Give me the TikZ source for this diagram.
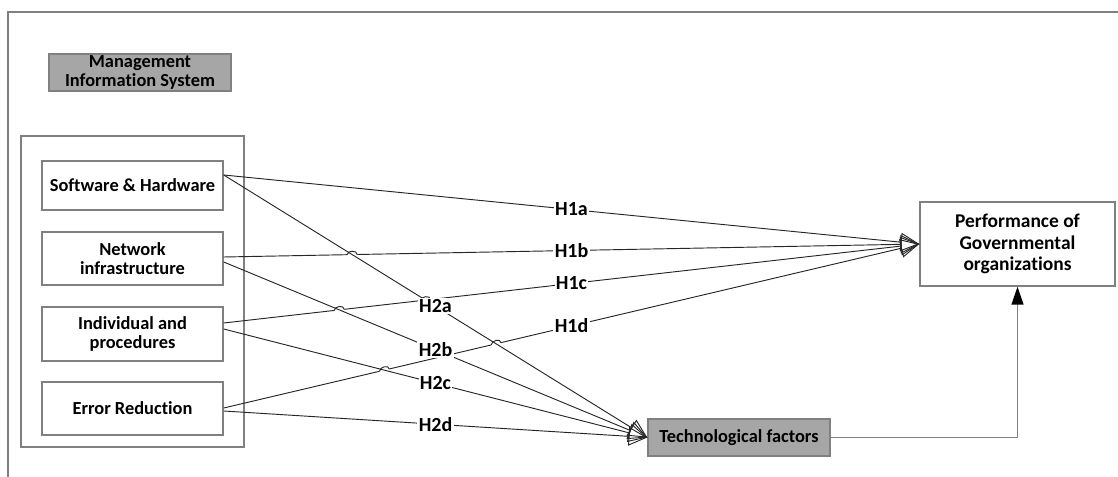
\documentclass[tikz,border=0pt]{standalone}
\usepackage{fontspec}
\setmainfont{Carlito}[Ligatures=NoCommon]
\usetikzlibrary{arrows.meta,calc,intersections}

\definecolor{boxgray}{RGB}{166,166,166}
\definecolor{edgegray}{RGB}{128,128,128}

% small jump of an H1 line over a crossing H2 line
\newcommand{\linehop}[3]{%
  \draw[white, line width=2.5pt] ($(#1)!3.75pt!(#2)$) -- ($(#1)!3.75pt!(#3)$);
  \draw[black!85, line width=0.7pt] ($(#1)!3.75pt!(#2)$) .. controls +(0,-4.5) and +(0,-4.5) .. ($(#1)!3.75pt!(#3)$);}

\begin{document}
\begin{tikzpicture}[x=0.75pt,y=0.75pt,yscale=-1,xscale=1,
  box/.style={draw=edgegray, line width=1.1pt, fill=white, align=center, inner sep=0pt,
    font=\bfseries\fontsize{13.8}{14.5}\selectfont},
  graybox/.style={box, fill=boxgray},
  link/.style={draw=black!85, line width=0.7pt, -{Triangle[open, length=14pt, width=14pt]}},
  hlabel/.style={fill=white, inner sep=1pt, font=\bfseries\fontsize{15}{16}\selectfont},
  frame/.style={draw=edgegray, line width=1.1pt}]
\useasboundingbox (0,0) rectangle (1118,477);

%Frame
\draw [frame] (8,477) -- (8,12) -- (1118,12);
%Group of MIS factors
\draw [frame] (21,136) rectangle (244,447);

% Boxes
\node [graybox, minimum width=136.5pt, minimum height=27.75pt] (mis) at (140,72.5) {Management\\Information System};
\node [box, minimum width=135.75pt, minimum height=36.75pt] (sw) at (132.5,185.5) {Software \& Hardware};
\node [box, minimum width=135.75pt, minimum height=39.75pt] (nw) at (132.5,258.5) {Network\\infrastructure};
\node [box, minimum width=135.75pt, minimum height=40.5pt] (ip) at (132.5,334) {Individual and\\procedures};
\node [box, minimum width=135.75pt, minimum height=39.75pt] (er) at (132.5,408.5) {Error Reduction};
\node [box, minimum width=146.25pt, minimum height=63pt, font=\bfseries\fontsize{14.6}{16}\selectfont] (perf) at (1017.5,244) {Performance of\\Governmental\\organizations};
\node [graybox, minimum width=136.5pt, minimum height=27.75pt] (tech) at (739,437.5) {Technological factors};

% Start points of the links
\coordinate (sw1) at ($(sw.east)+(0,-10.5)$);
\coordinate (nw1) at ($(nw.east)+(0,-1.5)$);
\coordinate (nw2) at ($(nw.east)+(0,3.5)$);
\coordinate (ip1) at ($(ip.east)+(0,-11)$);
\coordinate (ip2) at ($(ip.east)+(0,-5)$);
\coordinate (er1) at ($(er.east)+(0,-0.5)$);
\coordinate (er2) at ($(er.east)+(0,2.5)$);

% Crossings
\path [name path=l1b] (nw1) -- (perf.west);
\path [name path=l1c] (ip1) -- (perf.west);
\path [name path=l1d] (er1) -- (perf.west);
\path [name path=l2a] (sw1) -- (tech.west);
\path [name path=l2b] (nw2) -- (tech.west);
\path [name path=l2c] (ip2) -- (tech.west);
\path [name intersections={of=l1b and l2a, by=x1}];
\path [name intersections={of=l1c and l2b, by=x2}];
\path [name intersections={of=l1c and l2a, by=x3}];
\path [name intersections={of=l1d and l2c, by=x4}];
\path [name intersections={of=l1d and l2a, by=x5}];
\path [name intersections={of=l1d and l2b, by=x6}];

% H1 links
\draw [link] (sw1) -- node [hlabel] {H1a} (perf.west);
\draw [link] (nw1) -- node [hlabel] {H1b} (perf.west);
\draw [link] (ip1) -- node [hlabel] {H1c} (perf.west);
\draw [link] (er1) -- node [hlabel] {H1d} (perf.west);

\linehop{x1}{nw1}{perf.west}
\linehop{x2}{ip1}{perf.west}
\linehop{x3}{ip1}{perf.west}
\linehop{x4}{er1}{perf.west}
\linehop{x5}{er1}{perf.west}
\linehop{x6}{er1}{perf.west}

% H2 links
\draw [link] (sw1) -- node [hlabel] {H2a} (tech.west);
\draw [link] (nw2) -- node [hlabel] {H2b} (tech.west);
\draw [link] (ip2) -- node [hlabel] {H2c} (tech.west);
\draw [link] (er2) -- node [hlabel] {H2d} (tech.west);

% Technological factors to performance
\draw [frame, -{Triangle[length=13.5pt, width=9pt, color=black]}] (tech.east) -| (perf.south);

\end{tikzpicture}
\end{document}
